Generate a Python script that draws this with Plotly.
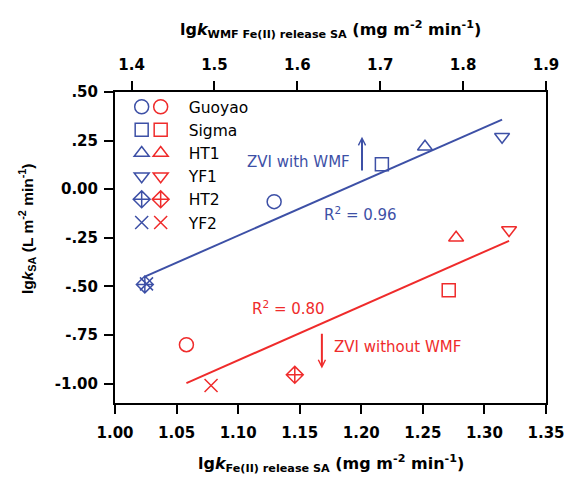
import numpy as np
import plotly.graph_objects as go

# Samples and marker symbols
samples = ["Guoyao", "Sigma", "HT1", "YF1", "HT2", "YF2"]
symbols = ["circle-open", "square-open", "triangle-up-open",
           "triangle-down-open", "diamond-cross-open", "x-thin-open"]
sizes = [14, 13, 13, 13, 13, 13]

# ZVI with WMF: lg k(WMF Fe(II) release SA) (top axis) vs lg kSA
wmf_release = [1.572, 1.702, 1.754, 1.847, 1.416, 1.418]
wmf_k = [-0.064, 0.128, 0.218, 0.270, -0.490, -0.487]

# ZVI without WMF: lg k(Fe(II) release SA) (bottom axis) vs lg kSA
zvi_release = [1.058, 1.271, 1.277, 1.320, 1.146, 1.078]
zvi_k = [-0.800, -0.520, -0.250, -0.210, -0.955, -1.010]

# Axis ticks
x_bottom_ticks = [1.00, 1.05, 1.10, 1.15, 1.20, 1.25, 1.30, 1.35]
x_top_ticks = [1.4, 1.5, 1.6, 1.7, 1.8, 1.9]
y_ticks = [-1.00, -0.75, -0.50, -0.25, 0.00, 0.25, 0.50]
y_ticktext = ["-1.00", "-.75", "-.50", "-.25", "0.00", ".25", ".50"]

BLUE = "#3d50a6"
RED = "#ef2b2b"
TICK_FONT = dict(family="DejaVu Sans", size=15, color="black", weight="bold")
TEXT_FONT = "DejaVu Sans"


def linear_fit(x, y):
    x = np.asarray(x, float)
    y = np.asarray(y, float)
    slope, intercept = np.polyfit(x, y, 1)
    r2 = np.corrcoef(x, y)[0, 1] ** 2
    xs = np.array([x.min(), x.max()])
    return xs, slope * xs + intercept, r2


fig = go.Figure()

# Regression lines
bx, by, r2_wmf = linear_fit(wmf_release, wmf_k)
rx, ry, r2_zvi = linear_fit(zvi_release, zvi_k)
fig.add_trace(go.Scatter(x=bx, y=by, mode="lines", xaxis="x2", yaxis="y",
                         line=dict(color=BLUE, width=2), showlegend=False,
                         hoverinfo="skip"))
fig.add_trace(go.Scatter(x=rx, y=ry, mode="lines", xaxis="x", yaxis="y",
                         line=dict(color=RED, width=2), showlegend=False,
                         hoverinfo="skip"))

# Sample markers: blue symbols form the first legend column (no labels),
# red symbols carry the sample names
for name, sym, sz, xv, yv in zip(samples, symbols, sizes, wmf_release, wmf_k):
    fig.add_trace(go.Scatter(
        x=[xv], y=[yv], mode="markers", name="", xaxis="x2", yaxis="y",
        legend="legend", hovertext=name,
        marker=dict(symbol=sym, size=sz, color=BLUE,
                    line=dict(color=BLUE, width=1.5))))
for name, sym, sz, xv, yv in zip(samples, symbols, sizes, zvi_release, zvi_k):
    fig.add_trace(go.Scatter(
        x=[xv], y=[yv], mode="markers", name=name, xaxis="x", yaxis="y",
        legend="legend2",
        marker=dict(symbol=sym, size=sz, color=RED,
                    line=dict(color=RED, width=1.5))))

axis_common = dict(showgrid=False, zeroline=False, showline=True,
                   linecolor="black", linewidth=2, ticks="outside",
                   ticklen=9, tickwidth=2, tickcolor="black",
                   tickfont=TICK_FONT, automargin=False)

fig.update_layout(
    width=565, height=480,
    margin=dict(l=115, r=19, t=92, b=77, autoexpand=False),
    paper_bgcolor="white", plot_bgcolor="white",
    xaxis=dict(range=[1.0, 1.35], tickvals=x_bottom_ticks,
               tickformat=".2f", ticklabelstandoff=6, **axis_common),
    xaxis2=dict(range=[1.38, 1.9], tickvals=x_top_ticks, tickformat=".1f",
                overlaying="x", side="top", anchor="y",
                ticklabelstandoff=5, **axis_common),
    yaxis=dict(range=[-1.1, 0.5], tickvals=y_ticks, ticktext=y_ticktext,
               mirror=True, ticklabelstandoff=3, **axis_common),
    legend=dict(x=0.0155, y=1.006, xanchor="left", yanchor="top",
                bgcolor="rgba(0,0,0,0)", traceorder="normal",
                font=dict(family=TEXT_FONT, size=15.5, color="black")),
    legend2=dict(x=0.041, y=1.006, xanchor="left", yanchor="top",
                 bgcolor="rgba(0,0,0,0)", traceorder="normal", itemwidth=46,
                 font=dict(family=TEXT_FONT, size=15.5, color="black")),
)

annotations = [
    # axis titles
    dict(text="lg<i>k</i><sub>Fe(II) release SA</sub> (mg m<sup>-2</sup> min<sup>-1</sup>)",
         xref="paper", yref="paper", x=0.5, y=-0.196, xanchor="center",
         yanchor="middle", showarrow=False,
         font=dict(family="DejaVu Sans", size=16, color="black", weight="bold")),
    dict(text="lg<i>k</i><sub>WMF Fe(II) release SA</sub> (mg m<sup>-2</sup> min<sup>-1</sup>)",
         xref="paper", yref="paper", x=0.5, y=1.2, xanchor="center",
         yanchor="middle", showarrow=False,
         font=dict(family="DejaVu Sans", size=16, color="black", weight="bold")),
    dict(text="lg<i>k</i><sub>SA</sub> (L m<sup>-2</sup> min<sup>-1</sup>)",
         xref="paper", yref="paper", x=-0.204, y=0.5595, xanchor="center",
         yanchor="middle", textangle=-90, showarrow=False,
         font=dict(family="Liberation Sans, Arial", size=15.5, color="black",
                   weight="bold")),
    # group labels
    dict(text="ZVI with WMF", xref="x2", yref="y", x=1.666, y=0.141,
         xanchor="right", yanchor="middle", showarrow=False,
         font=dict(family=TEXT_FONT, size=15, color=BLUE)),
    dict(text=f"R<sup>2</sup> = {r2_wmf:.2f}", xref="x2", yref="y",
         x=1.63, y=-0.128, xanchor="left", yanchor="middle", showarrow=False,
         font=dict(family=TEXT_FONT, size=15, color=BLUE)),
    dict(text=f"R<sup>2</sup> = {r2_zvi:.2f}", xref="x", yref="y",
         x=1.1096, y=-0.612, xanchor="left", yanchor="middle",
         showarrow=False, font=dict(family=TEXT_FONT, size=15, color=RED)),
    dict(text="ZVI without WMF", xref="x", yref="y", x=1.176, y=-0.814,
         xanchor="left", yanchor="middle", showarrow=False,
         font=dict(family=TEXT_FONT, size=15, color=RED)),
    # arrows
    dict(text="", xref="x2", yref="y", x=1.678, y=0.27, axref="x2",
         ayref="y", ax=1.678, ay=0.089, showarrow=True, arrowhead=5,
         arrowsize=0.7, arrowwidth=2, arrowcolor=BLUE, standoff=0),
    dict(text="", xref="x", yref="y", x=1.168, y=-0.922, axref="x",
         ayref="y", ax=1.168, ay=-0.736, showarrow=True, arrowhead=5,
         arrowsize=0.7, arrowwidth=2, arrowcolor=RED, standoff=0),
]
fig.update_layout(annotations=annotations)

fig.write_html("out.html")
